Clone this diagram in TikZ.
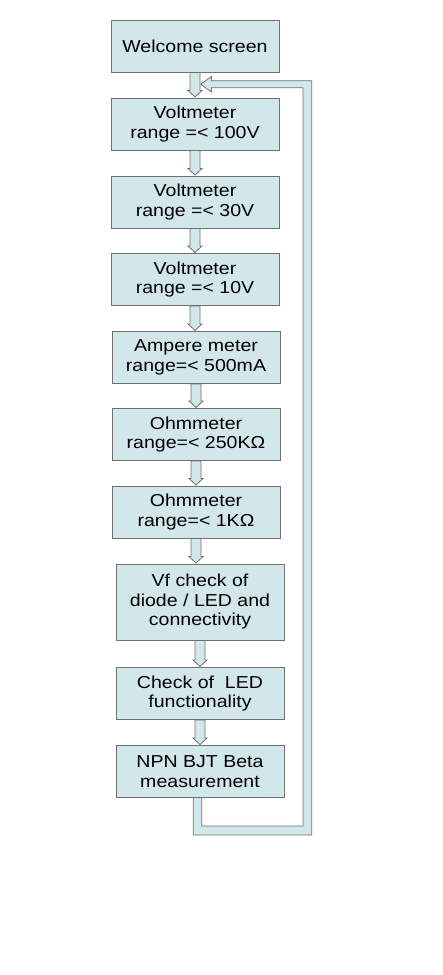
\documentclass[tikz,border=0pt]{standalone}
\usepackage{fontspec}
\setmainfont{Liberation Sans}[FakeStretch=1.13]
\usetikzlibrary{calc}
\definecolor{boxfill}{RGB}{210,231,233}
\definecolor{boxline}{RGB}{112,112,112}
\tikzset{
  stepbox/.style={draw=boxline, fill=boxfill, line width=1pt, minimum width=168pt, minimum height=52pt,
    inner sep=0pt, align=center, font=\fontsize{17.3}{19.5}\selectfont},
  blockarr/.style={draw=boxline, fill=boxfill, line width=0.8pt}
}
\newcommand\downarrowblock[2]{%
  \path let \p1=(#1.south), \p2=(#2.north) in
    [blockarr] (\x1-5pt,\y1) -- (\x1-5pt,\y2+7pt) -- (\x1-7pt,\y2+7pt) -- (\x1,\y2+0.5pt)
    -- (\x1+7pt,\y2+7pt) -- (\x1+5pt,\y2+7pt) -- (\x1+5pt,\y1) -- cycle;}
\begin{document}
\begin{tikzpicture}[x=1pt,y=-1pt]
\useasboundingbox (0,0) rectangle (443,975);
\node[stepbox] (n1) at (195,46) {Welcome screen};
\node[stepbox] (n2) at (195,124) {Voltmeter\\range =< 100V};
\node[stepbox] (n3) at (195,202) {Voltmeter\\range =< 30V};
\node[stepbox] (n4) at (195,279.5) {Voltmeter\\range =< 10V};
\node[stepbox] (n5) at (196,357.5) {Ampere meter\\range=< 500mA};
\node[stepbox] (n6) at (196,434.5) {Ohmmeter\\range=< 250KΩ};
\node[stepbox] (n7) at (196,512) {Ohmmeter\\range=< 1KΩ};
\node[stepbox, minimum height=76pt] (n8) at (200,602) {Vf check of\\diode / LED and\\connectivity};
\node[stepbox] (n9) at (200,693.5) {Check of~ LED\\functionality};
\node[stepbox] (n10) at (200,771.5) {NPN BJT Beta\\measurement};
\downarrowblock{n1}{n2}
\downarrowblock{n2}{n3}
\downarrowblock{n3}{n4}
\downarrowblock{n4}{n5}
\downarrowblock{n5}{n6}
\downarrowblock{n6}{n7}
\downarrowblock{n7}{n8}
\downarrowblock{n8}{n9}
\downarrowblock{n9}{n10}
% feedback loop tube
\coordinate (tip) at (200.7,84.2);
\draw[blockarr] ($(n10.south)+(-6.7,0)$) -- (193.3,835) -- (311.7,835) -- (311.7,80.7)
  -- (211.5,80.7) -- (211.5,76.5) -- (tip) -- (211.5,92) -- (211.5,87.7)
  -- (303,87.7) -- (303,826) -- (201.7,826) -- ($(n10.south)+(1.7,0)$);
\end{tikzpicture}
\end{document}
